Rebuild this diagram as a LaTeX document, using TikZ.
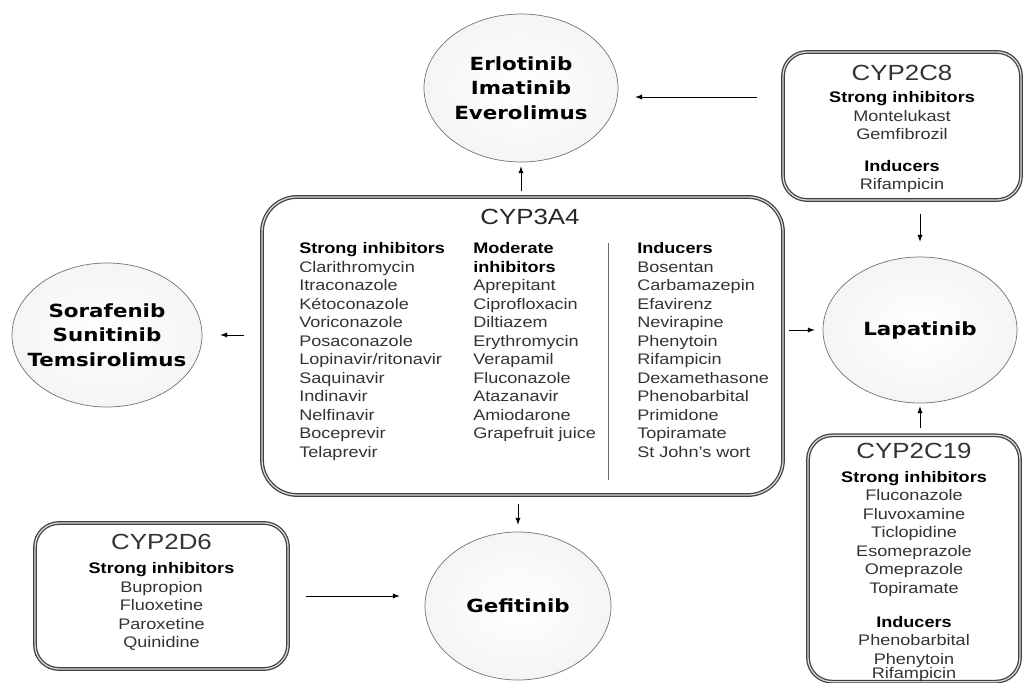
\documentclass[tikz,border=0pt]{standalone}
\usepackage{fontspec}
\setmainfont{Liberation Sans}[FakeStretch=1.18]
\newfontfamily\drugfont{DejaVu Sans}[FakeStretch=1.18]
\usetikzlibrary{shapes.geometric}

\newcommand{\bodysize}{\fontsize{10.9}{13.15}\selectfont}
\newcommand{\titlesize}{\fontsize{15.6}{18}\selectfont}
\newcommand{\cyphead}[1]{\textbf{\color{black}#1}}

\begin{document}
\begin{tikzpicture}[>=latex,
	cypbox/.style={draw=black!75, double=black!15, double distance=0.9pt, line width=0.9pt, rounded corners=0.6cm, align=center, inner sep=0pt, font=\bodysize, text=black!80},
	drug/.style={ellipse, draw=black!55, line width=0.5pt, inner color=white, outer color=black!4, align=center, inner sep=-0.6cm, font=\drugfont\fontsize{12.9}{17.4}\selectfont\bfseries},
	col/.style={anchor=north west, align=left, inner sep=0pt, font=\bodysize, text=black!80},
	link/.style={->, line width=0.65pt}]
	\useasboundingbox (0,0) rectangle (25.575,17.05);

	% the drugs
	\node[drug, minimum width=4.85cm, minimum height=3.7cm] (erlo) at (13.025,14.85) {Erlotinib\\Imatinib\\Everolimus};
	\node[drug, minimum width=4.75cm, minimum height=3.6cm] (sora) at (2.675,8.675) {Sorafenib\\Sunitinib\\Temsirolimus};
	\node[drug, minimum width=4.85cm, minimum height=3.65cm] (lapa) at (23.0,8.8) {Lapatinib};
	\node[drug, minimum width=4.65cm, minimum height=3.7cm] (gefi) at (12.95,1.9) {Gefitinib};

	% CYP3A4
	\node[cypbox, minimum width=13.025cm, minimum height=7.45cm, rounded corners=0.875cm] (c3a4) at (13.0625,8.4) {};
	\node[font=\titlesize, text=black!85] (c3a4title) at (13.25,11.625) {CYP3A4};
	\node[col] (strong) at (7.475,10.99) {\cyphead{Strong inhibitors}\\Clarithromycin\\Itraconazole\\Kétoconazole\\Voriconazole\\Posaconazole\\Lopinavir/ritonavir\\Saquinavir\\Indinavir\\Nelfinavir\\Boceprevir\\Telaprevir};
	\node[col] (moderate) at (11.825,10.99) {\cyphead{Moderate}\\\cyphead{inhibitors}\\Aprepitant\\Ciprofloxacin\\Diltiazem\\Erythromycin\\Verapamil\\Fluconazole\\Atazanavir\\Amiodarone\\Grapefruit juice};
	\node[col] (inducers) at (15.925,10.99) {\cyphead{Inducers}\\Bosentan\\Carbamazepin\\Efavirenz\\Nevirapine\\Phenytoin\\Rifampicin\\Dexamethasone\\Phenobarbital\\Primidone\\Topiramate\\St John's wort};
	\draw[black!60, line width=0.6pt] (15.2,10.975) -- (15.2,5.05);

	% other enzymes
	\node[cypbox, minimum width=5.95cm, minimum height=3.7cm] (c2c8) at (22.55,13.9) {{\titlesize\rule{0pt}{15.4pt}CYP2C8}\\[2.5pt]\cyphead{Strong inhibitors}\\Montelukast\\Gemfibrozil\\[9pt]\cyphead{Inducers}\\Rifampicin};
	\node[cypbox, minimum width=5.3cm, minimum height=6.075cm] (c2c19) at (22.85,3.0875) {{\titlesize\rule{0pt}{16.8pt}CYP2C19}\\[3.5pt]\cyphead{Strong inhibitors}\\Fluconazole\\Fluvoxamine\\Ticlopidine\\Esomeprazole\\Omeprazole\\Topiramate\\[11pt]\cyphead{Inducers}\\Phenobarbital\\Phenytoin\\[-3pt]Rifampicin};
	\node[cypbox, minimum width=6.325cm, minimum height=3.65cm] (c2d6) at (4.0375,2.15) {{\titlesize CYP2D6}\\[4pt]\cyphead{Strong inhibitors}\\Bupropion\\Fluoxetine\\Paroxetine\\Quinidine\rule[-7pt]{0pt}{7pt}};

	% arrows
	\coordinate (c8level) at (0,14.625);
	\draw[link, shorten <=0.125cm, shorten >=0.1cm] (c3a4.north -| erlo.south) -- (erlo.south);
	\draw[link, shorten <=0.625cm, shorten >=0.425cm] (c2c8.west |- c8level) -- (erlo.east |- c8level);
	\draw[link, shorten <=0.425cm, shorten >=0.45cm] (c3a4.west |- sora.east) -- (sora.east);
	\draw[link, shorten <=0.125cm, shorten >=0.2cm] (c3a4.east |- lapa.west) -- (lapa.west);
	\draw[link, shorten <=0.33cm, shorten >=0.375cm] (c2c8.south -| lapa.north) -- (lapa.north);
	\draw[link, shorten <=0.175cm, shorten >=0.075cm] (c2c19.north -| lapa.south) -- (lapa.south);
	\draw[link, shorten <=0.2cm, shorten >=0.175cm] (c3a4.south -| gefi.north) -- (gefi.north);
	\draw[link, shorten <=0.425cm, shorten >=0.625cm] (c2d6.east) -- (gefi.west |- c2d6.east);
\end{tikzpicture}
\end{document}
